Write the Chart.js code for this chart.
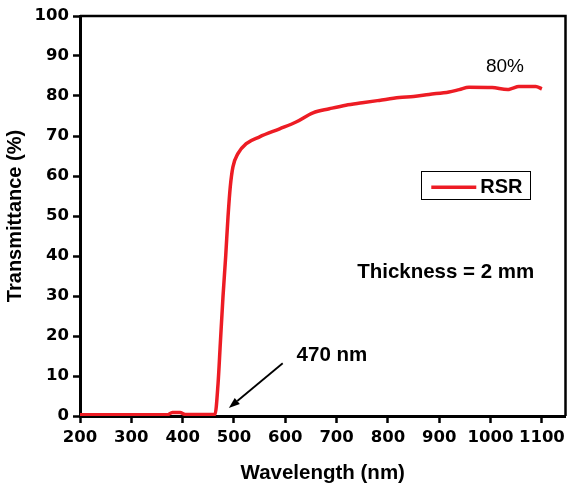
<!DOCTYPE html>
<html>
<head>
<meta charset="utf-8">
<script src="https://cdn.jsdelivr.net/npm/chart.js@4/dist/chart.umd.min.js"></script>
<style>
  html, body { margin: 0; padding: 0; background: #fff; }
  #wrap { width: 570px; height: 494px; }
</style>
</head>
<body>
<div id="wrap"><canvas id="c" width="570" height="494"></canvas></div>
<script>
// ---- data ----
const wavelength = [200, 300, 370, 380, 395, 405, 440, 463, 469, 473.4, 478.6, 483.8, 488.4, 492.8, 498, 507.7, 524, 550, 589, 621, 654, 686, 718, 750, 783, 822, 850, 880, 919, 939, 958, 1003, 1033, 1042, 1055, 1088, 1100];
const transmittance = [0.3, 0.3, 0.3, 0.9, 0.9, 0.4, 0.4, 0.4, 8.1, 18.1, 29.8, 39.8, 49.8, 57.3, 62.3, 65.6, 68.1, 69.8, 71.8, 73.5, 75.8, 76.8, 77.7, 78.3, 78.9, 79.6, 79.9, 80.4, 81.0, 81.6, 82.2, 82.1, 81.6, 81.9, 82.4, 82.4, 81.8];
const seriesName = 'RSR';
const xTicks = [200, 300, 400, 500, 600, 700, 800, 900, 1000, 1100];
const yTicks = [0, 10, 20, 30, 40, 50, 60, 70, 80, 90, 100];
const xTitle = 'Wavelength (nm)';
const yTitle = 'Transmittance (%)';
const peakLabel = '80%';
const edgeLabel = '470 nm';
const thicknessLabel = 'Thickness = 2 mm';

const RED = '#ed1c24';
const FONT = '"Liberation Sans", Arial, sans-serif';
const TICKFONT = '"DejaVu Sans", "Liberation Sans", Arial, sans-serif';

// annotations placed in data coordinates
const notes = {
  peak: { x: 1028, y: 87.4 },
  edge: { x: 622, y: 15.2 },
  arrowFrom: { x: 595, y: 13.2 },
  arrowTo: { x: 490, y: 2.0 },
  thick: { x: 740, y: 35.9 },
  legendTL: { x: 865, y: 61.2 },
  legendBR: { x: 1077, y: 54.2 }
};

const points = wavelength.map((w, i) => ({ x: w, y: transmittance[i] }));

const decor = {
  id: 'decor',
  afterDraw(chart) {
    const { ctx, chartArea: a, scales: { x, y } } = chart;
    ctx.save();
    // top and right frame
    ctx.strokeStyle = '#000';
    ctx.lineWidth = 2.5;
    ctx.beginPath();
    ctx.moveTo(a.left, a.top);
    ctx.lineTo(a.right, a.top);
    ctx.lineTo(a.right, a.bottom);
    ctx.stroke();

    ctx.fillStyle = '#000';
    ctx.textBaseline = 'middle';
    // 80%
    ctx.font = '19px ' + FONT;
    ctx.textAlign = 'center';
    ctx.fillText(peakLabel, x.getPixelForValue(notes.peak.x), y.getPixelForValue(notes.peak.y));
    // 470 nm
    ctx.font = 'bold 20.5px ' + FONT;
    ctx.textAlign = 'left';
    ctx.fillText(edgeLabel, x.getPixelForValue(notes.edge.x), y.getPixelForValue(notes.edge.y));
    // thickness
    ctx.fillText(thicknessLabel, x.getPixelForValue(notes.thick.x), y.getPixelForValue(notes.thick.y));

    // arrow
    const x1 = x.getPixelForValue(notes.arrowFrom.x), y1 = y.getPixelForValue(notes.arrowFrom.y);
    const x2 = x.getPixelForValue(notes.arrowTo.x), y2 = y.getPixelForValue(notes.arrowTo.y);
    const ang = Math.atan2(y2 - y1, x2 - x1);
    const hl = 11, hw = 4;
    const bx = x2 - hl * Math.cos(ang), by = y2 - hl * Math.sin(ang);
    ctx.lineWidth = 1.8;
    ctx.beginPath();
    ctx.moveTo(x1, y1);
    ctx.lineTo(bx, by);
    ctx.stroke();
    ctx.beginPath();
    ctx.moveTo(x2, y2);
    ctx.lineTo(bx + hw * Math.sin(ang), by - hw * Math.cos(ang));
    ctx.lineTo(bx - hw * Math.sin(ang), by + hw * Math.cos(ang));
    ctx.closePath();
    ctx.fill();

    // legend box
    const lx1 = x.getPixelForValue(notes.legendTL.x), ly1 = y.getPixelForValue(notes.legendTL.y);
    const lx2 = x.getPixelForValue(notes.legendBR.x), ly2 = y.getPixelForValue(notes.legendBR.y);
    ctx.lineWidth = 1;
    ctx.strokeRect(Math.round(lx1) + 0.5, Math.round(ly1) + 0.5, Math.round(lx2 - lx1), Math.round(ly2 - ly1));
    const cy = (ly1 + ly2) / 2 + 2;
    ctx.strokeStyle = chart.data.datasets[0].borderColor;
    ctx.lineWidth = 3.5;
    ctx.beginPath();
    ctx.moveTo(lx1 + 10, cy);
    ctx.lineTo(lx1 + 55, cy);
    ctx.stroke();
    ctx.fillStyle = '#000';
    ctx.font = 'bold 20px ' + FONT;
    ctx.textAlign = 'left';
    ctx.fillText(chart.data.datasets[0].label, lx1 + 59, cy);
    ctx.restore();
  }
};

new Chart(document.getElementById('c'), {
  type: 'line',
  data: {
    datasets: [{
      label: seriesName,
      data: points,
      borderColor: RED,
      backgroundColor: RED,
      borderWidth: 3.5,
      pointRadius: 0,
      cubicInterpolationMode: 'monotone',
      fill: false
    }]
  },
  options: {
    responsive: false,
    animation: false,
    devicePixelRatio: 1,
    layout: { padding: { top: 16, right: 3, left: 0, bottom: 0 } },
    plugins: { legend: { display: false }, tooltip: { enabled: false } },
    scales: {
      x: {
        type: 'linear',
        min: 200,
        max: 1146,
        afterBuildTicks(s) { s.ticks = xTicks.map(v => ({ value: v })); },
        afterFit(s) { s.height = 78; },
        ticks: {
          color: '#000',
          font: { family: TICKFONT, size: 16.5, weight: 'bold' },
          padding: 5,
          maxRotation: 0,
          autoSkip: false,
          callback: v => String(v)
        },
        grid: { drawOnChartArea: false, drawTicks: true, tickLength: 7, tickWidth: 2.5, tickColor: '#000' },
        border: { display: true, color: '#000', width: 3 },
        title: {
          display: true,
          text: xTitle,
          color: '#000',
          font: { family: FONT, size: 20.5, weight: 'bold' },
          padding: { top: 0, bottom: 8 }
        }
      },
      y: {
        type: 'linear',
        min: 0,
        max: 100,
        afterBuildTicks(s) { s.ticks = yTicks.map(v => ({ value: v })); },
        afterFit(s) { s.width = 80; },
        ticks: {
          color: '#000',
          font: { family: TICKFONT, size: 16.5, weight: 'bold' },
          padding: 4,
          autoSkip: false,
          callback: v => String(v)
        },
        grid: { drawOnChartArea: false, drawTicks: true, tickLength: 7, tickWidth: 2.5, tickColor: '#000' },
        border: { display: true, color: '#000', width: 3 },
        title: {
          display: true,
          text: yTitle,
          color: '#000',
          font: { family: FONT, size: 20, weight: 'bold' },
          padding: { top: 3, bottom: 0 }
        }
      }
    }
  },
  plugins: [decor]
});
</script>
</body>
</html>
